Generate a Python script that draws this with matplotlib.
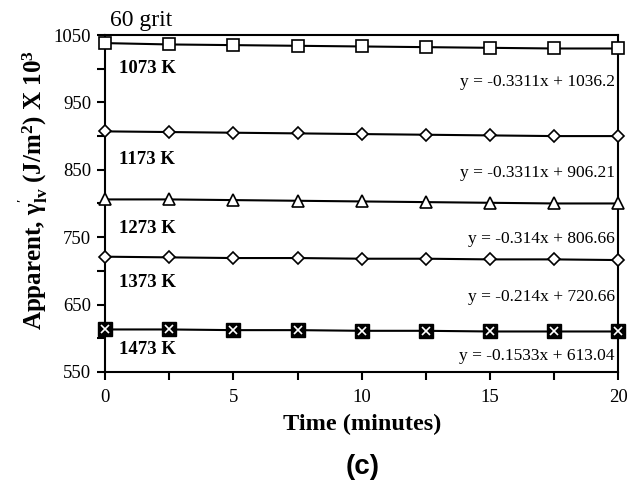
import matplotlib
matplotlib.use('Agg')
import matplotlib.pyplot as plt

# ----------------------------
time_min = [0, 2.5, 5, 7.5, 10, 12.5, 15, 17.5, 20]

gamma_1073 = [1038, 1036, 1035, 1034, 1033, 1032, 1031, 1030, 1030]
gamma_1173 = [907, 906, 905, 904, 903, 902, 901, 900, 900]
gamma_1273 = [806, 806, 805, 804, 803, 802, 801, 800, 800]
gamma_1373 = [721, 720, 719, 719, 718, 718, 717, 717, 716]
gamma_1473 = [613, 613, 612, 612, 611, 611, 610, 610, 610]

temp_labels = ['1073 K', '1173 K', '1273 K', '1373 K', '1473 K']
fit_labels  = [
    'y = -0.3311x + 1036.2',
    'y = -0.3311x + 906.21',
    'y = -0.314x + 806.66',
    'y = -0.214x + 720.66',
    'y = -0.1533x + 613.04']
label_y = [1001, 865, 763, 682, 583]
fit_y   = [980, 845, 748, 661, 573]
# ----------------------------
serif = 'Liberation Serif'
plt.rcParams['mathtext.default'] = 'regular'

fig = plt.figure(figsize=(6.33, 4.83), dpi=100)
ax  = fig.add_axes([0.166, 0.230, 0.811, 0.6975])

kw = dict(color='black', lw=1.5, mfc='white', mec='black', mew=1.2, zorder=3, clip_on=False)
ax.plot(time_min, gamma_1073, marker='s', ms=8, **kw)
ax.plot(time_min, gamma_1173, marker='D', ms=6, **kw)
ax.plot(time_min, gamma_1273, marker='^', ms=8, **kw)
ax.plot(time_min, gamma_1373, marker='D', ms=6, **kw)
ax.plot(time_min, gamma_1473, color='black', lw=1.5, marker='s', ms=10,
        mfc='black', mec='black', zorder=3, clip_on=False)
ax.plot(time_min, gamma_1473, ls='none', marker='x', ms=5.5, mec='white',
        mew=1.2, zorder=4, clip_on=False)

for lab, yy in zip(temp_labels, label_y):
    ax.text(0.55, yy, lab, family=serif, weight='bold', fontsize=13.5, va='center')
for lab, yy in zip(fit_labels, fit_y):
    ax.text(19.85, yy, lab, family=serif, fontsize=12.5, va='center', ha='right')

ax.set_xlim(0, 20)
ax.set_ylim(550, 1050)
ax.set_xticks([0, 5, 10, 15, 20])
ax.set_xticks([2.5, 7.5, 12.5, 17.5], minor=True)
ax.set_yticks([550, 650, 750, 850, 950, 1050])
ax.set_yticks([600, 700, 800, 900, 1000], minor=True)
ax.tick_params(which='both', direction='out', width=1.5, length=6, labelsize=13.5)
ax.tick_params(axis='x', which='both', pad=6)
ax.tick_params(axis='y', which='both', pad=4)
for lab in ax.get_xticklabels() + ax.get_yticklabels():
    lab.set_family(serif)
for sp in ax.spines.values():
    sp.set_linewidth(1.5)

ax.set_xlabel('Time (minutes)', family=serif, weight='bold', fontsize=17.5, labelpad=6)
fig.text(33 / 633, 1 - 190 / 483, r"Apparent, $\gamma_{lv}^{'}$ (J/m$^2$) X 10$^3$",
         family=serif, weight='bold', fontsize=18, rotation=90,
         ha='center', va='center')

fig.text(0.174, 0.958, '60 grit', family=serif, fontsize=17, va='center')
fig.text(363 / 633, 1 - 467 / 483, '(c)', family='Liberation Sans', weight='bold',
         fontsize=20, ha='center', va='center')

fig.savefig('out.png', dpi=100)
